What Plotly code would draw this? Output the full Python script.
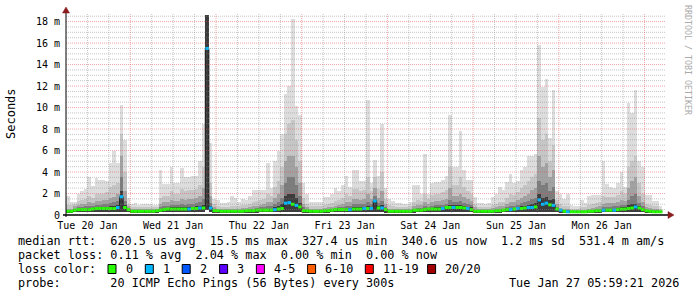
import numpy as np
import plotly.graph_objects as go

# ---------------- data (one value per hour, starting Tue 20 Jan 06:00) -------------
# values in milliseconds
mx = [1.8,1.2,1.2,2.0,2.2,2.4,3.5,2.7,3.4,3.3,3.3,3.2,4.8,6.0,4.8,10.2,7.0,1.6,
      1.0,1.1,0.9,1.0,1.0,1.0,0.9,0.9,4.2,2.9,2.9,4.5,3.0,3.0,4.4,3.5,3.5,3.6,3.6,5.0,8.5,18.6,6.7,1.5,
      1.4,1.1,1.1,1.2,1.8,1.6,1.2,1.5,1.4,1.8,2.3,2.3,2.3,2.3,4.8,2.5,5.0,6.0,7.5,11.3,12.0,18.2,10.1,9.3,
      3.0,2.0,1.2,1.2,1.2,1.2,1.7,1.7,2.0,2.5,2.2,2.8,3.6,2.6,4.2,4.2,3.2,3.2,10.7,3.0,5.1,3.6,8.5,2.5,
      1.5,1.3,1.1,1.1,1.0,1.0,1.2,2.8,2.8,2.0,5.7,2.0,3.0,3.1,3.1,3.3,3.6,9.3,4.5,4.5,7.8,4.2,3.3,3.3,
      1.7,1.1,1.1,1.0,1.1,1.7,2.0,2.6,2.3,3.1,3.8,3.0,3.2,4.2,4.5,5.5,5.5,5.7,15.8,11.9,12.7,7.2,11.6,2.2,
      2.0,1.5,2.0,0.9,0.8,0.8,1.4,1.1,1.8,1.9,1.9,1.9,5.0,2.9,2.6,2.5,3.0,4.0,2.6,10.4,9.5,11.6,5.0,4.5,1.9,1.9,1.3,1.3,0.8]

q2 = [0.9,0.9,1.0,1.3,1.4,1.5,1.8,1.6,2.0,2.0,2.0,2.1,2.6,2.8,3.0,7.5,4.0,1.0,
      0.7,0.7,0.7,0.7,0.7,0.75,0.75,0.75,1.6,1.8,1.8,2.2,2.0,2.0,2.4,2.2,2.3,2.3,2.4,2.8,4.5,18.6,3.0,1.0,
      0.8,0.7,0.7,0.7,0.8,0.8,0.8,0.9,0.9,1.0,1.2,1.3,1.4,1.5,2.0,1.8,2.6,3.2,4.5,7.5,8.5,8.8,7.0,5.0,
      1.6,1.0,0.8,0.8,0.8,0.8,0.9,1.0,1.1,1.3,1.4,1.6,2.0,1.8,2.4,2.4,2.2,2.3,3.5,2.2,3.5,2.4,4.0,1.5,
      0.9,0.8,0.7,0.7,0.7,0.7,0.8,1.2,1.4,1.3,2.0,1.5,1.9,2.0,2.0,2.1,2.3,4.5,2.8,2.8,3.5,2.6,2.2,2.0,
      1.0,0.7,0.7,0.7,0.75,0.9,1.0,1.2,1.2,1.6,2.0,1.9,2.1,2.5,2.8,3.2,3.5,3.8,9.0,7.0,7.5,5.0,6.5,1.4,
      1.0,0.8,0.8,0.6,0.6,0.6,0.7,0.7,0.9,1.0,1.1,1.2,1.8,1.7,1.7,1.7,1.9,2.2,2.0,4.5,5.0,5.5,3.0,2.0,1.0,0.9,0.8,0.8,0.6]

q3 = [0.6,0.6,0.8,0.9,1.0,1.0,1.2,1.1,1.3,1.3,1.4,1.4,1.6,1.7,2.0,5.5,2.2,0.8,
      0.55,0.55,0.55,0.55,0.55,0.6,0.6,0.6,1.0,1.2,1.2,1.4,1.3,1.3,1.5,1.4,1.5,1.5,1.6,1.8,2.5,18.6,1.8,0.7,
      0.6,0.55,0.55,0.55,0.6,0.6,0.6,0.65,0.65,0.7,0.8,0.85,0.9,1.0,1.2,1.2,1.6,2.0,2.8,5.0,5.5,5.5,4.5,3.0,
      1.0,0.7,0.6,0.6,0.6,0.6,0.65,0.7,0.75,0.85,0.9,1.0,1.2,1.2,1.5,1.5,1.4,1.5,2.0,1.5,2.5,1.6,2.2,1.0,
      0.6,0.6,0.55,0.55,0.55,0.55,0.6,0.8,0.9,0.9,1.2,1.0,1.2,1.3,1.3,1.4,1.5,2.5,1.8,1.8,2.0,1.7,1.5,1.3,
      0.7,0.55,0.55,0.55,0.55,0.65,0.7,0.8,0.8,1.0,1.2,1.2,1.4,1.6,1.8,2.0,2.3,2.5,5.5,4.5,4.8,3.5,4.2,1.0,
      0.65,0.6,0.6,0.45,0.45,0.45,0.5,0.5,0.6,0.65,0.7,0.8,1.0,1.1,1.1,1.1,1.2,1.4,1.3,2.5,3.2,3.5,1.8,1.2,0.7,0.65,0.55,0.55,0.45]

q4 = [0.5,0.5,0.6,0.7,0.75,0.8,0.85,0.85,0.9,0.9,1.0,1.0,1.1,1.2,1.3,3.5,1.3,0.6,
      0.45,0.45,0.45,0.45,0.45,0.5,0.5,0.5,0.7,0.8,0.85,0.9,0.9,0.9,1.0,0.95,1.0,1.0,1.1,1.2,1.5,18.6,1.1,0.55,
      0.5,0.45,0.45,0.45,0.5,0.5,0.5,0.5,0.5,0.55,0.6,0.65,0.7,0.75,0.8,0.85,1.0,1.2,1.6,3.0,3.5,3.5,2.8,1.8,
      0.7,0.55,0.5,0.5,0.5,0.5,0.5,0.55,0.6,0.65,0.7,0.75,0.85,0.85,1.0,1.0,1.0,1.0,1.2,1.0,1.8,1.1,1.3,0.7,
      0.5,0.45,0.45,0.45,0.45,0.45,0.5,0.6,0.65,0.65,0.8,0.75,0.85,0.9,0.9,0.95,1.0,1.4,1.2,1.2,1.3,1.1,1.0,0.9,
      0.5,0.45,0.45,0.45,0.45,0.5,0.55,0.6,0.6,0.7,0.8,0.85,0.95,1.1,1.2,1.3,1.5,1.6,3.2,2.8,3.0,2.2,2.6,0.75,
      0.5,0.45,0.45,0.4,0.4,0.4,0.4,0.4,0.45,0.5,0.55,0.6,0.7,0.75,0.75,0.8,0.85,0.95,0.9,1.4,1.8,2.0,1.1,0.8,0.5,0.5,0.45,0.45,0.4]

q5 = [0.4,0.4,0.5,0.55,0.6,0.6,0.65,0.65,0.7,0.7,0.75,0.75,0.8,0.8,0.9,2.2,0.9,0.55,
      0.4,0.4,0.4,0.4,0.4,0.4,0.4,0.45,0.55,0.6,0.65,0.7,0.7,0.7,0.7,0.7,0.75,0.75,0.8,0.85,0.9,18.6,0.8,0.45,
      0.4,0.4,0.4,0.4,0.4,0.4,0.4,0.4,0.45,0.45,0.5,0.5,0.55,0.55,0.6,0.6,0.7,0.8,1.0,1.8,2.0,2.0,1.6,1.1,
      0.5,0.45,0.4,0.4,0.4,0.4,0.45,0.45,0.5,0.55,0.55,0.6,0.65,0.65,0.7,0.7,0.7,0.75,0.85,0.75,1.4,0.8,0.9,0.55,
      0.4,0.4,0.4,0.4,0.4,0.4,0.4,0.5,0.5,0.55,0.6,0.6,0.65,0.7,0.7,0.75,0.8,0.95,0.9,0.9,0.9,0.85,0.75,0.7,
      0.4,0.4,0.4,0.4,0.4,0.4,0.45,0.5,0.5,0.55,0.6,0.65,0.7,0.8,0.85,0.9,1.0,1.1,2.0,1.6,1.7,1.4,1.5,0.6,
      0.45,0.4,0.4,0.35,0.35,0.35,0.35,0.35,0.4,0.4,0.45,0.5,0.55,0.55,0.6,0.6,0.65,0.7,0.7,0.9,1.0,1.0,0.8,0.6,0.45,0.4,0.4,0.4,0.35]

lo = [0.2,0.2,0.25,0.25,0.25,0.25,0.25,0.25,0.25,0.25,0.25,0.25,0.25,0.25,0.25,0.3,0.25,0.25,
      0.2,0.2,0.2,0.2,0.2,0.2,0.2,0.2,0.25,0.25,0.25,0.25,0.25,0.25,0.25,0.25,0.25,0.25,0.25,0.25,0.25,0.45,0.25,0.2,
      0.2,0.2,0.2,0.2,0.2,0.2,0.2,0.2,0.2,0.2,0.2,0.2,0.25,0.25,0.25,0.25,0.25,0.25,0.25,0.3,0.3,0.3,0.3,0.25,
      0.2,0.2,0.2,0.2,0.2,0.2,0.2,0.2,0.25,0.25,0.25,0.25,0.25,0.25,0.25,0.25,0.25,0.25,0.25,0.25,0.3,0.25,0.25,0.2,
      0.2,0.2,0.2,0.2,0.2,0.2,0.2,0.2,0.25,0.25,0.25,0.25,0.25,0.25,0.25,0.25,0.25,0.25,0.25,0.25,0.25,0.25,0.25,0.25,
      0.2,0.2,0.2,0.2,0.2,0.2,0.2,0.2,0.25,0.25,0.25,0.25,0.25,0.25,0.25,0.25,0.25,0.25,0.3,0.3,0.3,0.3,0.3,0.25,
      0.2,0.2,0.2,0.2,0.2,0.2,0.2,0.2,0.2,0.2,0.2,0.2,0.25,0.25,0.25,0.25,0.25,0.25,0.25,0.25,0.25,0.25,0.25,0.25,0.2,0.2,0.2,0.2,0.2]

med = [0.35,0.35,0.45,0.5,0.5,0.5,0.5,0.55,0.6,0.6,0.6,0.6,0.6,0.6,0.7,1.7,0.7,0.5,
       0.35,0.35,0.35,0.35,0.35,0.35,0.35,0.4,0.45,0.5,0.55,0.55,0.55,0.55,0.55,0.55,0.55,0.6,0.6,0.65,0.65,15.5,0.65,0.4,
       0.4,0.35,0.35,0.35,0.35,0.35,0.35,0.35,0.4,0.4,0.4,0.45,0.45,0.45,0.45,0.45,0.5,0.55,0.6,1.1,1.15,1.0,0.9,0.75,
       0.4,0.4,0.35,0.35,0.35,0.35,0.4,0.4,0.45,0.5,0.5,0.5,0.5,0.5,0.55,0.55,0.55,0.6,0.6,0.6,1.3,0.65,0.65,0.5,
       0.35,0.35,0.35,0.35,0.35,0.35,0.35,0.45,0.45,0.45,0.5,0.55,0.55,0.55,0.55,0.6,0.7,0.7,0.7,0.7,0.7,0.65,0.6,0.5,
       0.35,0.35,0.35,0.35,0.35,0.35,0.4,0.4,0.45,0.5,0.5,0.55,0.6,0.6,0.65,0.7,0.7,0.75,1.4,1.0,1.1,0.95,0.9,0.55,
       0.45,0.35,0.3,0.3,0.3,0.3,0.3,0.3,0.35,0.35,0.4,0.4,0.45,0.45,0.45,0.45,0.5,0.55,0.55,0.6,0.65,0.75,0.65,0.5,0.4,0.35,0.3,0.3,0.3]

loss = [0,0,0,0,0,0,0,0,0,0,0,0,0,0,1,1,0,0,
        0,0,0,0,0,0,0,0,0,0,0,0,0,0,0,0,1,0,0,1,0,1,1,0,
        0,0,0,0,0,0,0,0,0,0,0,0,0,0,0,0,1,0,0,1,1,0,1,0,
        0,0,0,0,0,0,0,0,0,0,0,0,0,1,0,0,0,1,0,1,1,0,1,0,
        0,0,0,0,0,0,0,0,0,0,0,0,0,0,0,1,0,0,1,0,0,0,1,0,
        0,0,0,0,0,0,0,0,0,0,1,0,1,0,0,1,1,0,1,1,1,0,1,0,
        1,0,1,0,0,0,0,0,0,0,0,0,1,0,0,1,0,0,0,0,0,1,0,0,0,0,0,0,0]

day_labels = ["Tue 20 Jan", "Wed 21 Jan", "Thu 22 Jan", "Fri 23 Jan",
              "Sat 24 Jan", "Sun 25 Jan", "Mon 26 Jan"]
day_label_hours = [6, 30, 54, 78, 102, 126, 150]      # noon of each day
midnight_hours = [18, 42, 66, 90, 114, 138, 162]
total_hours = 168
y_ticks = [0, 2, 4, 6, 8, 10, 12, 14, 16, 18]
y_tick_text = ["0", "2 m", "4 m", "6 m", "8 m", "10 m", "12 m", "14 m", "16 m", "18 m"]
y_max = 18.8

loss_labels = ["0", "1", "2", "3", "4-5", "6-10", "11-19", "20/20"]
loss_colors = ["#26ff00", "#00b8ff", "#0059ff", "#5e00ff", "#ff00ff", "#ff5e00", "#ff0000", "#a00000"]
loss_upper = [0, 1, 2, 3, 5, 10, 19, 20]

legend_rtt = "median rtt:  620.5 us avg  15.5 ms max  327.4 us min  340.6 us now  1.2 ms sd  531.4 m am/s"
legend_loss = "packet loss: 0.11 % avg  2.04 % max  0.00 % min  0.00 % now"
legend_color = "loss color:"
legend_probe = "probe:       20 ICMP Echo Pings (56 Bytes) every 300s"
legend_date = "Tue Jan 27 05:59:21 2026"
watermark = "RRDTOOL / TOBI OETIKER"

smoke_colors = ["#dddddd", "#c6c6c6", "#a2a2a2", "#7c7c7c", "#3c3c3c"]

# ---------------- geometry ----------------
W, H = 697, 297
L, R, T, B = 66, 31, 13, 82
PW, PH = W - L - R, H - T - B
MONO = "DejaVu Sans Mono"


def px(xp):
    return (xp - L) / PW


def py(yp):
    return (H - B - yp) / PH


def nb(s):
    return s.replace(" ", "\u00a0")


fig = go.Figure()

n = len(mx)
xc = np.arange(n) + 0.5
lo_a = np.array(lo)
for top, col in zip([mx, q2, q3, q4, q5], smoke_colors):
    t = np.array(top)
    fig.add_trace(go.Bar(x=xc, y=t - lo_a, base=lo_a, width=1.0,
                         marker=dict(color=col, line=dict(width=0)),
                         hoverinfo="skip", showlegend=False))

# median as step line (dark), then loss-coloured segments
xs = list(range(n)) + [n]
ys = list(med) + [med[-1]]
fig.add_trace(go.Scatter(x=xs, y=ys, mode="lines", line=dict(color="#202020", width=1, shape="hv"),
                         hoverinfo="skip", showlegend=False))


def loss_class(v):
    for i, u in enumerate(loss_upper):
        if v <= u:
            return i
    return len(loss_upper) - 1


for ci, col in enumerate(loss_colors):
    sx, sy = [], []
    for h in range(n):
        if loss_class(loss[h]) == ci:
            sx += [h, h + 1, None]
            sy += [med[h], med[h], None]
    if sx:
        fig.add_trace(go.Scatter(x=sx, y=sy, mode="lines", line=dict(color=col, width=3),
                                 hoverinfo="skip", showlegend=False))

shapes = []
grid_gray = "rgba(140,140,140,0.5)"
grid_red = "rgba(225,80,80,0.5)"
dash = "1px,1px"
# horizontal grid
v = 0.5
while v < y_max:
    major = abs(v / 2 - round(v / 2)) < 1e-9
    shapes.append(dict(type="line", xref="paper", yref="y", x0=0, x1=1, y0=v, y1=v, layer="above",
                       line=dict(color=grid_red if major else grid_gray, width=1, dash=dash)))
    v += 0.5
# vertical grid every 6 hours
for hh in range(6, total_hours, 6):
    major = hh in midnight_hours
    shapes.append(dict(type="line", xref="x", yref="paper", x0=hh, x1=hh, y0=0, y1=1, layer="above",
                       line=dict(color=grid_red if major else grid_gray, width=1, dash=dash)))

# axis lines and arrows
shapes.append(dict(type="line", xref="paper", yref="paper", x0=px(63), x1=px(669), y0=py(215), y1=py(215),
                   line=dict(color="#000000", width=1.5), layer="above"))
shapes.append(dict(type="line", xref="paper", yref="paper", x0=px(66), x1=px(66), y0=py(217), y1=py(11),
                   line=dict(color="#000000", width=1), layer="above"))
arrow_col = "#8b1c1c"
shapes.append(dict(type="path", xref="paper", yref="paper", layer="above",
                   path=f"M {px(62.5)} {py(13)} L {px(69.5)} {py(13)} L {px(66)} {py(7)} Z",
                   fillcolor=arrow_col, line=dict(color=arrow_col, width=0.5)))
shapes.append(dict(type="path", xref="paper", yref="paper", layer="above",
                   path=f"M {px(668)} {py(211.5)} L {px(668)} {py(218.5)} L {px(674)} {py(215)} Z",
                   fillcolor=arrow_col, line=dict(color=arrow_col, width=0.5)))

annotations = []
leg_font = dict(family=MONO, size=11.8, color="#000000")


def text_at(x, y, s, anchor="left", font=leg_font, angle=0):
    annotations.append(dict(x=px(x), y=py(y), xref="paper", yref="paper", text=nb(s), showarrow=False,
                            xanchor=anchor, yanchor="middle", font=font, textangle=angle))


text_at(16, 241, legend_rtt)
text_at(16, 255, legend_loss)
text_at(16, 269, legend_color)
text_at(16, 283, legend_probe)
text_at(681, 283, legend_date, anchor="right")

box_x = [108, 145.3, 182.2, 219.6, 256.4, 307.6, 365.3, 427.6]
for bx, lab, col in zip(box_x, loss_labels, loss_colors):
    shapes.append(dict(type="rect", xref="paper", yref="paper", x0=px(bx), x1=px(bx + 8),
                       y0=py(273.5), y1=py(264.5), fillcolor=col, line=dict(color="#000000", width=1)))
    text_at(bx + 15.5, 269, lab)

# y axis title
text_at(11, 114, "Seconds", anchor="center", font=dict(family=MONO, size=12, color="#000000"), angle=-90)
# watermark
text_at(688, 60, watermark, anchor="center", font=dict(family=MONO, size=8.3, color="#aaaaaa"), angle=90)

fig.update_layout(
    width=W, height=H, margin=dict(l=L, r=R, t=T, b=B, pad=0),
    paper_bgcolor="white", plot_bgcolor="white",
    barmode="overlay", bargap=0,
    shapes=shapes, annotations=annotations,
    showlegend=False,
    xaxis=dict(range=[0, total_hours], showgrid=False, zeroline=False, showline=False,
               tickmode="array", tickvals=day_label_hours, ticktext=day_labels, ticks="",
               tickfont=dict(family=MONO, size=10, color="#000000"), ticklabelstandoff=3,
               fixedrange=True),
    yaxis=dict(range=[0, y_max], showgrid=False, zeroline=False, showline=False,
               tickmode="array", tickvals=y_ticks, ticktext=y_tick_text, ticks="",
               tickfont=dict(family=MONO, size=10, color="#000000"), ticklabelstandoff=5,
               fixedrange=True),
)

fig.write_html("out.html")
